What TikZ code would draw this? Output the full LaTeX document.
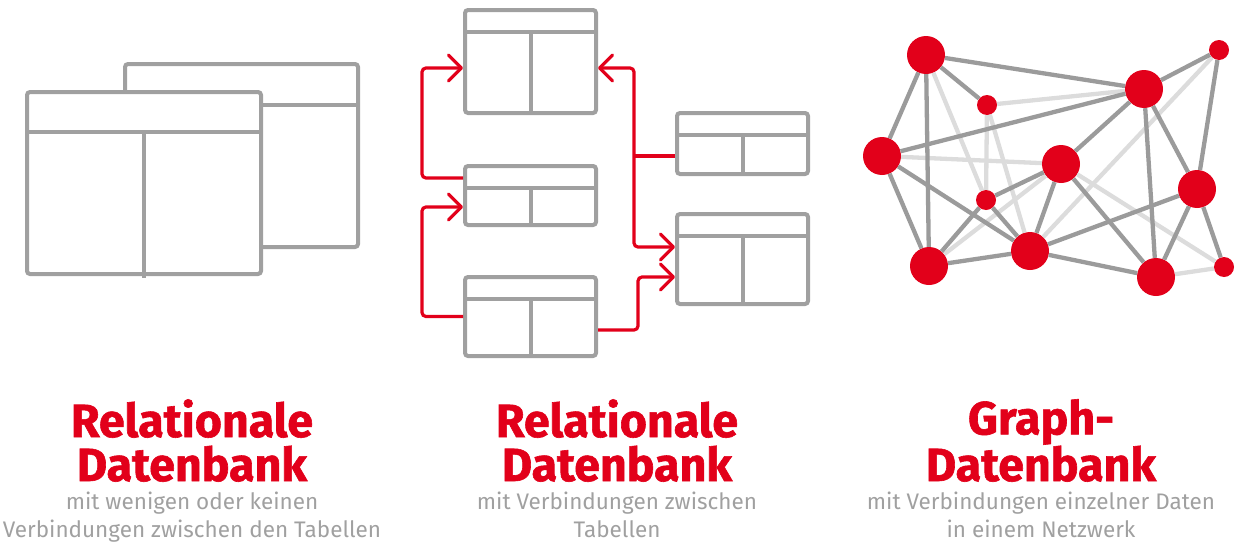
\documentclass[tikz,border=0pt]{standalone}
\usepackage{fontspec}
\setmainfont{Fira Sans}
\newfontfamily\headfont[BoldFeatures={FakeBold=1.3}]{Fira Sans}
\usepackage{tikz}
\usetikzlibrary{
    positioning,
    arrows.meta,
    calc
}
\usepackage{xcolor}
\definecolor{dbred}{RGB}{226,0,26}
\definecolor{dbgray}{RGB}{160,160,160}
\definecolor{edgedark}{RGB}{155,155,155}
\definecolor{edgelight}{RGB}{220,220,220}

\begin{document}
\begin{tikzpicture}[
    x=1pt, y=-1pt,
    tbl/.style={
        rectangle,
        draw=dbgray,
        line width=4pt,
        rounded corners=3pt,
        fill=white,
        inner sep=0pt,
        minimum width=131pt
    },
    tblline/.style={draw=dbgray, line width=4pt},
    rel/.style={draw=dbred, line width=3.2pt, rounded corners=4pt},
    relarrow/.style={rel, -{Straight Barb[length=13pt, width=26pt, round]}},
    datum/.style={circle, fill=dbred, inner sep=0pt, minimum size=38pt},
    smalldatum/.style={datum, minimum size=20pt},
    strong/.style={draw=edgedark, line width=4.3pt},
    weak/.style={draw=edgelight, line width=4.3pt},
    heading/.style={
        align=center,
        anchor=base,
        text=dbred,
        font=\fontsize{46.5}{44}\headfont\bfseries
    },
    subline/.style={
        align=center,
        anchor=base,
        text=dbgray,
        font=\fontsize{22.5}{28}\selectfont
    }
]
\useasboundingbox (0,0) rectangle (1247,546);

% Left: two loose tables
\node[tbl, minimum width=233pt, minimum height=183pt] (back) at (241.5,155.5) {};
\draw[tblline] ([yshift=-43pt]back.north west) -- ([yshift=-43pt]back.north east);
\node[tbl, minimum width=234pt, minimum height=182pt] (front) at (144,183) {};
\draw[tblline] ([yshift=-42pt]front.north west) -- ([yshift=-42pt]front.north east);
\draw[tblline] ([yshift=-42pt]front.north) -- ([yshift=-2pt]front.south);

% Middle: linked tables
\node[tbl, minimum height=103pt] (ta) at (530.5,61.5) {};
\node[tbl, minimum height=59pt] (tb) at (530.5,195.5) {};
\node[tbl, minimum height=79pt] (tc) at (530.5,316.5) {};
\node[tbl, minimum height=61pt] (td) at (742.5,143.5) {};
\node[tbl, minimum height=90pt] (te) at (742.5,259) {};

\foreach \t in {ta,tb,tc,td,te} {
    \draw[tblline] ([yshift=-24pt]\t.north west) -- ([yshift=-24pt]\t.north east);
    \draw[tblline] ([yshift=-24pt]\t.north) -- (\t.south);
}

% Links between tables
\draw[relarrow] ([yshift=17.5pt]tb.west) -- ++(-41pt,0) |- ([yshift=-6.5pt]ta.west);
\draw[relarrow] (tc.west) -- ++(-41pt,0) |- ([yshift=-11.5pt]tb.west);
\draw[rel] ([yshift=-12.5pt]td.west) -- ++(-41pt,0) coordinate (split);
\draw[rel, {Straight Barb[length=13pt, width=26pt, round]}-{Straight Barb[length=13pt, width=26pt, round]}]
    ([yshift=-6.5pt]ta.east) -| (split) |- ([yshift=12pt]te.west);
\draw[relarrow] ([yshift=-13.5pt]tc.east) -- ++(40pt,0) |- ([yshift=-18pt]te.west);

% Right: graph
\node[datum] (n1) at (926,55) {};
\node[smalldatum] (n2) at (1219,50) {};
\node[datum] (n3) at (1144,89) {};
\node[smalldatum] (n4) at (987,105) {};
\node[datum] (n5) at (882,156) {};
\node[datum] (n6) at (1061,164) {};
\node[datum] (n7) at (1197,189) {};
\node[smalldatum] (n8) at (986,200) {};
\node[datum] (n9) at (929,266) {};
\node[datum] (n10) at (1030,251) {};
\node[datum] (n11) at (1156,277) {};
\node[smalldatum] (n12) at (1224,267) {};

\foreach \a/\b in {n1/n8, n4/n3, n4/n8, n4/n10, n5/n6, n2/n10, n9/n6, n6/n12, n11/n12}
    \draw[weak] (\a) -- (\b);
\foreach \a/\b in {n1/n3, n1/n4, n1/n5, n1/n9, n3/n2, n3/n5, n3/n6, n3/n11, n3/n7,
                   n2/n7, n5/n9, n5/n10, n6/n8, n6/n10, n6/n11, n8/n9, n8/n10,
                   n9/n10, n10/n7, n10/n11, n7/n11, n7/n12}
    \draw[strong] (\a) -- (\b);

% Captions
\node[heading] (h1) at (192,481) {Relationale\\Datenbank};
\node[heading] (h2) at (617,481) {Relationale\\Datenbank};
\node[heading] (h3) at (1041,481) {Graph-\\Datenbank};

\node[subline] (s1) at (192,537) {mit wenigen oder keinen\\Verbindungen zwischen den Tabellen};
\node[subline] (s2) at (617,537) {mit Verbindungen zwischen\\Tabellen};
\node[subline] (s3) at (1041,537) {mit Verbindungen einzelner Daten\\in einem Netzwerk};

\end{tikzpicture}
\end{document}
